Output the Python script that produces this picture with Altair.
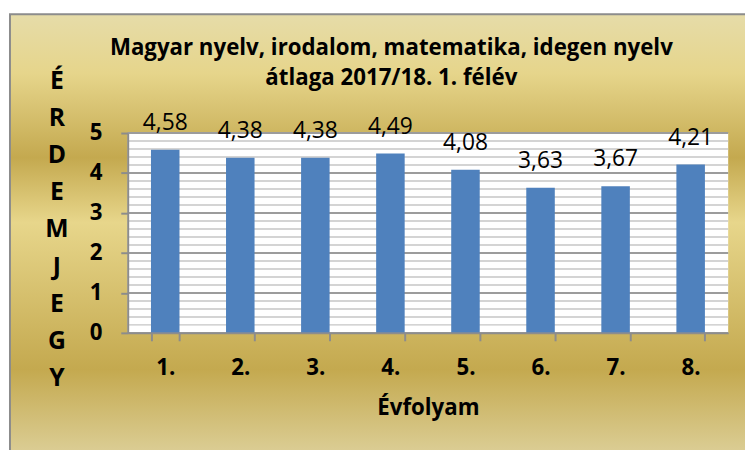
import altair as alt
import pandas as pd

categories = ["1.", "2.", "3.", "4.", "5.", "6.", "7.", "8."]
values = [4.58, 4.38, 4.38, 4.49, 4.08, 3.63, 3.67, 4.21]
labels = ["4,58", "4,38", "4,38", "4,49", "4,08", "3,63", "3,67", "4,21"]
major_ticks = [0, 1, 2, 3, 4, 5]
minor_ticks = [0.2, 0.4, 0.6, 0.8, 1.2, 1.4, 1.6, 1.8, 2.2, 2.4, 2.6, 2.8,
               3.2, 3.4, 3.6, 3.8, 4.2, 4.4, 4.6, 4.8]
title_lines = ["Magyar nyelv, irodalom, matematika, idegen nyelv", "átlaga 2017/18. 1. félév"]
y_title_letters = ["É", "R", "D", "E", "M", "J", "E", "G", "Y"]
x_title = "Évfolyam"

df = pd.DataFrame({"cat": categories, "val": values, "label": labels})
minor_df = pd.DataFrame({"v": minor_ticks})
major_df = pd.DataFrame({"v": major_ticks})
one = pd.DataFrame({"a": [0]})

W, H = 607, 202
FONT = "Open Sans"

y_scale = alt.Scale(domain=[0, 5], nice=False, zero=True)
x_scale = alt.Scale(paddingInner=0.62, paddingOuter=0.31)

gradient = alt.LinearGradient(
    gradient="linear", x1=0, y1=0, x2=0, y2=1,
    stops=[
        alt.GradientStop(offset=0.0, color="#E6DCA9"),
        alt.GradientStop(offset=0.13, color="#E6D58B"),
        alt.GradientStop(offset=0.315, color="#C4A94F"),
        alt.GradientStop(offset=0.457, color="#E7D68B"),
        alt.GradientStop(offset=0.78, color="#C4A94F"),
        alt.GradientStop(offset=1.0, color="#E0D5A3"),
    ],
)

x_axis = alt.Axis(
    labelAngle=0, tickBand="extent", tickSize=8, tickColor="#8c8c8c", tickWidth=2,
    domainColor="#8c8c8c", domainWidth=2, grid=False,
    labelFont=FONT, labelFontWeight="bold", labelFontSize=22.5, labelColor="black", labelPadding=16,
    title=x_title, titleFont=FONT, titleFontWeight="bold", titleFontSize=22.5, titleColor="black",
    titleY=83, titleBaseline="alphabetic", zindex=1,
)
y_axis = alt.Axis(
    values=major_ticks, format="d", grid=False, tickSize=7, tickColor="#8c8c8c", tickWidth=2,
    domainColor="#8c8c8c", domainWidth=2,
    labelFont=FONT, labelFontWeight="bold", labelFontSize=22.5, labelColor="black", labelPadding=19,
    title=y_title_letters, titleAngle=0, titleX=-72, titleY=-45, titleAlign="center",
    titleBaseline="alphabetic", titleFont=FONT, titleFontWeight="bold", titleFontSize=25,
    titleColor="black", titleLineHeight=37.5, zindex=1,
)

bg = alt.Chart(one).mark_rect(fill=gradient, stroke="#8c8c8c", strokeWidth=2, clip=False).encode(
    x=alt.value(-119), x2=alt.value(640), y=alt.value(-120), y2=alt.value(340)
)
plotbg = alt.Chart(one).mark_rect(fill="white").encode(
    x=alt.value(0), x2=alt.value(W), y=alt.value(0), y2=alt.value(H)
)
minor = alt.Chart(minor_df).mark_rule(color="#C6C6C6", strokeWidth=1.5).encode(
    y=alt.Y("v:Q", scale=y_scale, axis=y_axis)
)
major = alt.Chart(major_df).mark_rule(color="#9C9C9C", strokeWidth=2).encode(
    y=alt.Y("v:Q", scale=y_scale, axis=y_axis)
)
bars = alt.Chart(df).mark_bar(color="#4F81BD").encode(
    x=alt.X("cat:N", sort=categories, scale=x_scale, axis=x_axis),
    y=alt.Y("val:Q", scale=y_scale, axis=y_axis),
)
text = alt.Chart(df).mark_text(baseline="alphabetic", dy=-20, font=FONT, fontSize=23, color="black").encode(
    x=alt.X("cat:N", sort=categories, scale=x_scale, axis=x_axis),
    y=alt.Y("val:Q", scale=y_scale, axis=y_axis),
    text="label:N",
)

chart = alt.layer(bg, plotbg, minor, major, bars, text).properties(
    width=W, height=H,
    title=alt.TitleParams(
        text=title_lines, font=FONT, fontSize=22.5, fontWeight="bold", color="black",
        anchor="middle", frame="group", dx=-37, lineHeight=30, offset=-77,
    ),
    autosize=alt.AutoSizeParams(type="none"),
    padding={"left": 121, "top": 124, "right": 17, "bottom": 116},
).configure_view(stroke=None)

chart.save("out.html", embed_options={"renderer": "svg", "actions": False})
